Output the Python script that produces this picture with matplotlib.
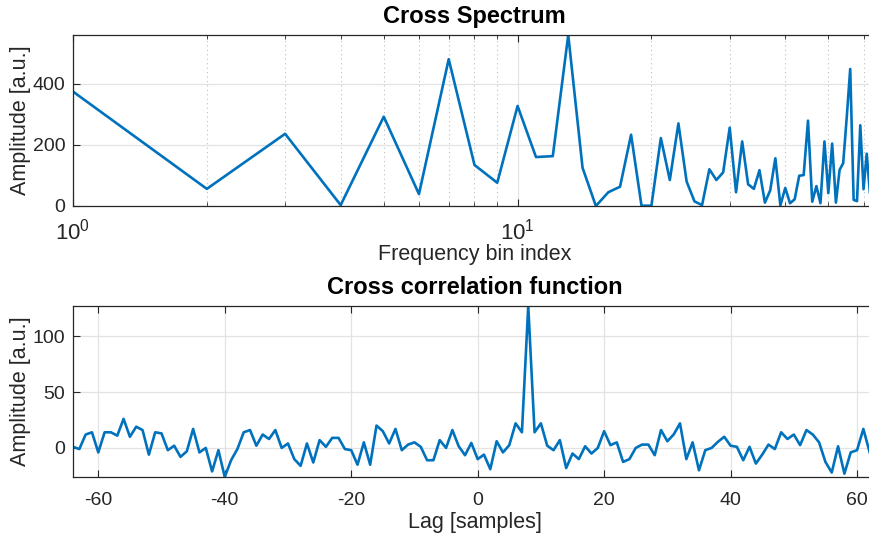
import numpy as np
import matplotlib.pyplot as plt
from matplotlib.ticker import LogLocator, NullFormatter, MultipleLocator, FixedLocator

plt.rcParams['font.family'] = ['Liberation Sans', 'DejaVu Sans']
plt.rcParams['mathtext.default'] = 'regular'
plt.rcParams['axes.unicode_minus'] = False

# magnitude of the cross spectrum, bins 1..62
spec_bins = np.arange(1, 63)
spec_amp = [374, 56, 236, 3, 292, 39, 480, 134, 76, 327,
            160, 163, 559, 125, 0, 45, 63, 233, 1, 1,
            222, 85, 270, 80, 15, 3, 120, 85, 110, 256,
            45, 211, 71, 56, 117, 11, 51, 156, 2, 59,
            9, 22, 99, 101, 279, 14, 65, 9, 211, 42,
            204, 11, 118, 140, 290, 448, 20, 16, 264, 55,
            171, 44]

# cross correlation, lags -64..62
lags = np.arange(-64, 63)
xcorr_amp = [1, -1, 12, 14, -4, 14, 14, 11, 26, 10,
             19, 16, -6, 14, 13, -2, 2, -8, -3, 17,
             -4, 0, -21, -2, -26, -11, -1, 14, 16, 2,
             12, 8, 16, 0, 4, -10, -16, 4, -13, 7,
             1, 9, 9, -1, -2, -15, 5, -15, 20, 15,
             4, 17, -2, 3, 5, 1, -11, -11, 7, 0,
             16, 1.5, -6.5, 4.5, -10, -6, -19, 6, -4, 2.5,
             22, 14, 127, 14, 22, 2, -2, 7, -18, -5,
             -10, 1.5, -5, 0, 15, 2.5, 5, -12.5, -10, 0,
             3, 3, -6.5, 16, 6, 12, 22, -10, 5, -20,
             -2, 0, 5.5, 10, 2, 1, -11, 1, -14, -6,
             3, -1, 14, 8, 12, 2.5, 16, 12, 5, -12.5,
             -22, 1.5, -23, -4, -2, 17, -4]

line_col = '#0072BD'
ax_col = '#262626'
W, H = 870, 541

fig = plt.figure(figsize=(W / 100, H / 100), dpi=100)
# axes run slightly past the right edge of the canvas
ax1 = fig.add_axes([73 / W, (H - 206) / H, (876 - 73) / W, 171 / H])
ax2 = fig.add_axes([73 / W, (H - 477) / H, (876 - 73) / W, 171 / H])


def style(ax, xpad, xsize=14):
    for s in ax.spines.values():
        s.set_color(ax_col)
        s.set_linewidth(0.9)
    ax.tick_params(which='both', direction='in', top=True, right=True,
                   colors=ax_col, labelsize=14)
    ax.tick_params(axis='x', which='both', pad=xpad, labelsize=xsize)
    ax.tick_params(axis='y', which='both', pad=5.5)
    ax.tick_params(which='major', length=5, width=0.8)
    ax.tick_params(which='minor', length=3, width=0.6)
    ax.grid(True, which='major', color='#e3e3e3', linewidth=0.9)
    ax.set_axisbelow(True)


# --- cross spectrum ---
ax1.plot(spec_bins, spec_amp, color=line_col, lw=1.9)
ax1.set_xscale('log')
ax1.set_xlim(1, 64)
ax1.set_ylim(min(spec_amp), max(spec_amp))
ax1.yaxis.set_major_locator(MultipleLocator(200))
ax1.xaxis.set_major_locator(LogLocator(base=10, numticks=5))
ax1.xaxis.set_minor_locator(LogLocator(base=10, subs=np.arange(2, 10), numticks=20))
ax1.xaxis.set_minor_formatter(NullFormatter())
style(ax1, 9, xsize=16)
ax1.grid(True, which='minor', axis='x', color='#bdbdbd', linestyle=(0, (1, 3)), linewidth=0.8)
ax1.set_title('Cross Spectrum', fontsize=17, fontweight='bold', pad=8.5)
ax1.set_xlabel('Frequency bin index', fontsize=15.5, color=ax_col, labelpad=0)
ax1.set_ylabel('Amplitude [a.u.]', fontsize=15.5, color=ax_col, labelpad=1)

# --- cross correlation ---
ax2.plot(lags, xcorr_amp, color=line_col, lw=1.9)
ax2.set_xlim(-64, 63)
ax2.set_ylim(min(xcorr_amp), max(xcorr_amp))
ax2.xaxis.set_major_locator(FixedLocator(np.arange(-60, 61, 20)))
ax2.yaxis.set_major_locator(MultipleLocator(50))
style(ax2, 11)
ax2.set_title('Cross correlation function', fontsize=17, fontweight='bold', pad=8.5)
ax2.set_xlabel('Lag [samples]', fontsize=15.5, color=ax_col, labelpad=2)
ax2.set_ylabel('Amplitude [a.u.]', fontsize=15.5, color=ax_col, labelpad=1)

fig.savefig('out.png', dpi=100)
